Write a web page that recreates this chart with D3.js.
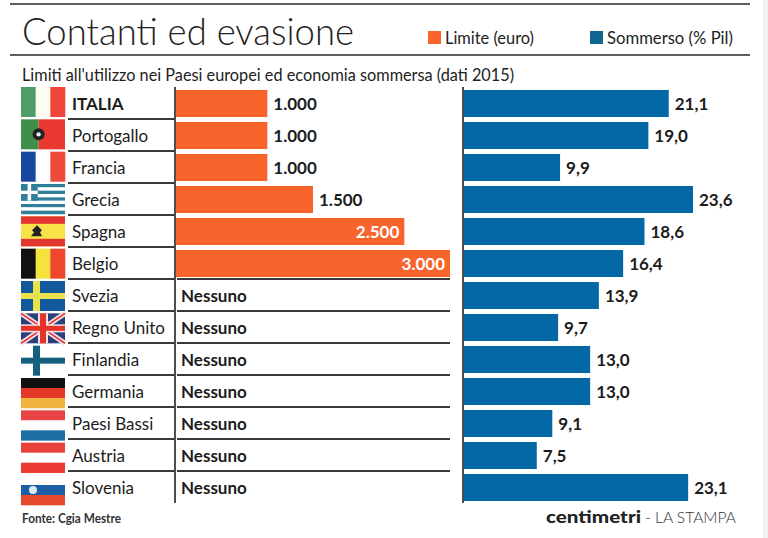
<!DOCTYPE html>
<html><head><meta charset="utf-8">
<script src="https://cdn.jsdelivr.net/npm/d3@7"></script>
<style>html,body{margin:0;padding:0;background:#fff}svg{display:block}text{font-family:Lato,"Open Sans",sans-serif}</style>
</head><body><svg id="c" width="768" height="538"></svg>
<script>
const countries=["ITALIA","Portogallo","Francia","Grecia","Spagna","Belgio","Svezia","Regno Unito","Finlandia","Germania","Paesi Bassi","Austria","Slovenia"];
const limits=[1000,1000,1000,1500,2500,3000,null,null,null,null,null,null,null];
const limitLabels=["1.000","1.000","1.000","1.500","2.500","3.000","Nessuno","Nessuno","Nessuno","Nessuno","Nessuno","Nessuno","Nessuno"];
const shadow=[21.1,19.0,9.9,23.6,18.6,16.4,13.9,9.7,13.0,13.0,9.1,7.5,23.1];
const shadowLabels=["21,1","19,0","9,9","23,6","18,6","16,4","13,9","9,7","13,0","13,0","9,1","7,5","23,1"];
const flagKinds=["v","h2","v","greece","spain","v","cross","uk","cross","h","h","h","h"];
const flagColors=[["#4c9d68","#fffdf2","#f0453a"],["#3f8f4a","#e8382f"],["#17479e","#ffffff","#ee4a38"],["#2f7f9a","#ffffff"],["#e2352f","#f8e24a"],["#111111","#f5e23c","#f0482e"],["#125a9c","#e9e24a"],["#2b3f7a","#e5332a"],["#ffffff","#16607f"],["#111111","#e4392a","#f3b33f"],["#ea4545","#ffffff","#1e6ea5"],["#e8413c","#ffffff","#ea3a33"],["#ffffff","#1d5fa5","#e5492b"]];
const orange="#f8642c",blue="#0568a6",ink="#1c1c1c";

const svg=d3.select("#c");
const y=d3.scaleBand().domain(d3.range(countries.length)).range([89,505]).paddingInner(0).paddingOuter(0);
const yFlag=d3.scaleLinear().domain([0,countries.length-1]).range([87,475]);
const xL=d3.scaleLinear().domain([0,3000]).range([176,450]);
const xR=d3.scaleLinear().domain([0,23.6]).range([464,693]);
const barTop=i=>y(i)+1, barH=27;
const fit=(s,w)=>s.attr("textLength",w).attr("lengthAdjust","spacingAndGlyphs");

// page edges
svg.append("rect").attr("x",763).attr("y",0).attr("width",5).attr("height",538).attr("fill","#f1f1f1");
// header rules
[[4,10,750],[55,10,750]].forEach(r=>svg.append("line").attr("x1",r[1]).attr("x2",r[2]).attr("y1",r[0]).attr("y2",r[0]).attr("stroke","#2a2a2a").attr("stroke-width",1.6));
fit(svg.append("text").attr("x",22).attr("y",45).attr("font-size",37.5).attr("font-weight",300).attr("fill","#222").text("Contanti ed evasione"),332);
// legend
svg.append("rect").attr("x",428).attr("y",31).attr("width",13).attr("height",13).attr("fill",orange);
fit(svg.append("text").attr("x",445).attr("y",44).attr("font-size",17).attr("fill","#222").text("Limite (euro)"),89);
svg.append("rect").attr("x",590).attr("y",31).attr("width",13).attr("height",13).attr("fill","#0f6690");
fit(svg.append("text").attr("x",607).attr("y",44).attr("font-size",17).attr("fill","#222").text("Sommerso (% Pil)"),126);
fit(svg.append("text").attr("x",22).attr("y",80.5).attr("font-size",17).attr("fill","#222").text("Limiti all'utilizzo nei Paesi europei ed economia sommersa (dati 2015)"),492);

// flags
const FX=21,FW=44;
const flags=svg.append("g").selectAll("g").data(countries).join("g").attr("transform",(d,i)=>`translate(${FX},${yFlag(i)})`);
flags.each(function(d,i){
  const g=d3.select(this),k=flagKinds[i],c=flagColors[i],W=FW,H=30;
  const R=(a,b,w,h,f)=>g.append("rect").attr("x",a).attr("y",b).attr("width",w).attr("height",h).attr("fill",f);
  if(k==="v"){const w=W/c.length;c.forEach((f,j)=>R(j*w,0,w+.3,H,f));}
  else if(k==="h"){const h=H/c.length;c.forEach((f,j)=>R(0,j*h,W,h+.3,f));}
  else if(k==="h2"){R(0,0,W*.4,H,c[0]);R(W*.4,0,W*.6,H,c[1]);g.append("circle").attr("cx",W*.4).attr("cy",H/2).attr("r",6).attr("fill","#222");g.append("circle").attr("cx",W*.4).attr("cy",H/2).attr("r",2.2).attr("fill","#eee");}
  else if(k==="greece"){const h=H/9;for(let j=0;j<9;j++)R(0,j*h,W,h+.2,j%2?c[1]:c[0]);R(0,0,W*.38,h*5,c[0]);R(W*.15,0,W*.08,h*5,c[1]);R(0,h*2,W*.38,h,c[1]);}
  else if(k==="spain"){R(0,0,W,H,c[1]);R(0,0,W,H/4,c[0]);R(0,H*.75,W,H/4,c[0]);g.append("path").attr("d",`M10 20h11l-2-4 2-2-5-5-5 5 2 2z`).attr("fill","#222");}
  else if(k==="cross"){R(0,0,W,H,c[0]);R(12,0,7,H,c[1]);R(0,12,W,6,c[1]);}
  else if(k==="uk"){R(0,0,W,H,c[0]);
    [[0,0,W,H],[W,0,0,H]].forEach(l=>{g.append("line").attr("x1",l[0]).attr("y1",l[1]).attr("x2",l[2]).attr("y2",l[3]).attr("stroke","#f3dfe8").attr("stroke-width",5);g.append("line").attr("x1",l[0]).attr("y1",l[1]).attr("x2",l[2]).attr("y2",l[3]).attr("stroke",c[1]).attr("stroke-width",1.6);});
    R(W/2-5,0,10,H,"#f6e2e6");R(0,H/2-4,W,8,"#f6e2e6");R(W/2-3,0,6,H,c[1]);R(0,H/2-2.5,W,5,c[1]);}
  if(countries[i]==="Slovenia"){g.append("circle").attr("cx",12).attr("cy",15).attr("r",4).attr("fill","#dfeaf2");}
});

// country names
svg.append("g").selectAll("text").data(countries).join("text").attr("x",72).attr("y",(d,i)=>y(i)+21).attr("font-size",17).attr("font-weight",(d,i)=>i===0?700:400).attr("fill",ink).text(d=>d);

// separators
const seps=d3.range(countries.length-1);
const sy=i=>y(i)+y.step()-2;
svg.append("g").selectAll("line").data(seps).join("line").attr("x1",68).attr("x2",174).attr("y1",sy).attr("y2",sy).attr("stroke","#3a3a3a").attr("stroke-width",1.8);
svg.append("g").selectAll("line").data(seps.filter(i=>i>=5)).join("line").attr("x1",177).attr("x2",450).attr("y1",sy).attr("y2",sy).attr("stroke","#3a3a3a").attr("stroke-width",1.8);

// limit bars
svg.append("g").selectAll("rect").data(limits.map((v,i)=>({v,i})).filter(d=>d.v!==null)).join("rect")
  .attr("x",xL(0)).attr("y",d=>barTop(d.i)).attr("width",d=>xL(d.v)-xL(0)).attr("height",barH).attr("fill",orange);
// axes
svg.append("line").attr("x1",175).attr("x2",175).attr("y1",87).attr("y2",503).attr("stroke","#222").attr("stroke-width",1.6);
svg.append("line").attr("x1",463).attr("x2",463).attr("y1",87).attr("y2",503).attr("stroke","#222").attr("stroke-width",1.6);
// limit labels
svg.append("g").selectAll("text").data(limitLabels).join("text")
  .attr("x",(d,i)=>limits[i]===null?181:limits[i]>=2500?xL(limits[i])-5:xL(limits[i])+6)
  .attr("y",(d,i)=>y(i)+21).attr("text-anchor",(d,i)=>limits[i]>=2500?"end":"start")
  .attr("font-size",17).attr("font-weight",700).attr("fill",(d,i)=>limits[i]>=2500?"#fff":ink).text(d=>d);
// shadow economy bars
svg.append("g").selectAll("rect").data(shadow).join("rect").attr("x",xR(0)).attr("y",(d,i)=>barTop(i)).attr("width",d=>xR(d)-xR(0)).attr("height",barH).attr("fill",blue);
svg.append("g").selectAll("text").data(shadowLabels).join("text").attr("x",(d,i)=>xR(shadow[i])+6).attr("y",(d,i)=>y(i)+21).attr("font-size",17).attr("font-weight",700).attr("fill",ink).text(d=>d);

// footer
fit(svg.append("text").attr("x",22).attr("y",523).attr("font-size",13).attr("font-weight",700).attr("fill","#333").text("Fonte: Cgia Mestre"),99);
fit(svg.append("text").attr("x",546).attr("y",523).attr("font-size",17).attr("font-weight",900).attr("fill","#222").text("centimetri"),95);
fit(svg.append("text").attr("x",645).attr("y",523).attr("font-size",16).attr("font-weight",300).attr("fill","#333").text("- LA STAMPA"),91);
</script></body></html>
